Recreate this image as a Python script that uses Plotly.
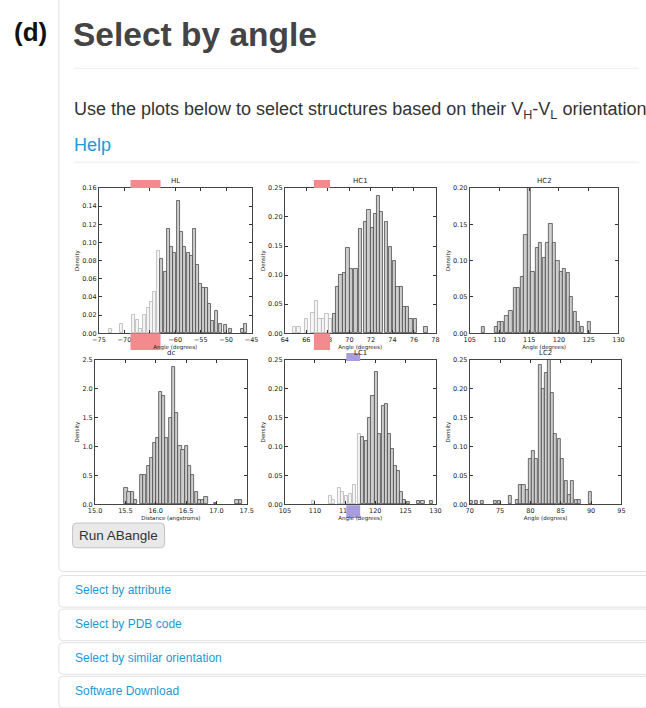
import plotly.graph_objects as go

W, H = 646, 708

# ---------------- data ----------------
hl_x = [-72.8, -70.5, -68.2, -67.5, -66.8, -66.0, -65.3, -64.7, -64.0, -63.3, -62.7, -62.0,
        -61.4, -60.7, -60.1, -59.4, -58.8, -58.2, -57.5, -56.9, -56.3, -55.7, -55.1, -54.5,
        -53.9, -53.2, -52.6, -51.9, -51.2, -50.1, -49.2, -46.8, -46.2]
hl_y = [0.005, 0.010, 0.020, 0.015, 0.005, 0.020, 0.028, 0.035, 0.045, 0.091, 0.082, 0.068,
        0.115, 0.095, 0.088, 0.146, 0.112, 0.095, 0.088, 0.085, 0.115, 0.075, 0.054, 0.050,
        0.050, 0.032, 0.014, 0.025, 0.010, 0.009, 0.005, 0.005, 0.010]
hl_sel = [-68.8, -62.9]

hc1_x = [64.85, 65.3, 66.0, 66.6, 66.9, 67.25, 67.55, 67.9, 68.2, 68.6, 68.9, 69.2, 69.5,
         69.85, 70.2, 70.6, 71.05, 71.45, 71.8, 72.1, 72.4, 72.7, 73.0, 73.4, 73.8, 74.2,
         74.5, 74.8, 75.1, 75.4, 75.7, 76.1, 77.1]
hc1_y = [0.011, 0.011, 0.024, 0.035, 0.056, 0.024, 0.024, 0.034, 0.024, 0.034, 0.079, 0.100,
         0.104, 0.146, 0.111, 0.111, 0.180, 0.191, 0.213, 0.181, 0.205, 0.236, 0.208, 0.191,
         0.149, 0.124, 0.079, 0.079, 0.045, 0.045, 0.024, 0.024, 0.011]
hc1_sel = [66.7, 68.2]

hc2_x = [107.3, 109.4, 109.9, 110.5, 111.2, 111.9, 112.6, 113.2, 113.8, 114.4, 115.0, 115.6,
         116.3, 116.9, 117.5, 118.1, 118.6, 119.2, 119.8, 120.4, 120.9, 121.5, 122.1, 122.7,
         123.3, 123.9, 125.1]
hc2_y = [0.009, 0.009, 0.016, 0.016, 0.024, 0.031, 0.063, 0.063, 0.077, 0.135, 0.200, 0.085,
         0.117, 0.125, 0.103, 0.125, 0.151, 0.125, 0.100, 0.085, 0.088, 0.083, 0.050, 0.030,
         0.016, 0.009, 0.016]

dc_x = [15.51, 15.56, 15.62, 15.67, 15.76, 15.82, 15.88, 15.93, 15.98, 16.03, 16.08, 16.13,
        16.18, 16.24, 16.29, 16.34, 16.40, 16.45, 16.51, 16.56, 16.61, 16.67, 16.72, 16.77,
        16.83, 16.99, 17.34, 17.40]
dc_y = [0.28, 0.21, 0.21, 0.07, 0.50, 0.50, 0.67, 0.81, 1.07, 1.15, 1.95, 1.87,
        1.15, 1.50, 2.38, 1.58, 1.01, 0.95, 1.01, 0.67, 0.50, 0.21, 0.07, 0.07,
        0.13, 0.03, 0.07, 0.07]

lc1_x = [109.7, 112.5, 113.1, 114.1, 114.6, 115.2, 115.8, 116.5, 117.3, 117.9, 118.5, 119.1,
         119.6, 120.2, 120.7, 121.3, 121.8, 122.3, 122.8, 123.3, 123.8, 124.4, 124.9, 125.5,
         127.1, 127.9, 129.3]
lc1_y = [0.006, 0.014, 0.007, 0.029, 0.021, 0.015, 0.018, 0.033, 0.121, 0.116, 0.110, 0.150,
         0.187, 0.230, 0.121, 0.170, 0.173, 0.121, 0.096, 0.067, 0.058, 0.021, 0.007, 0.004,
         0.006, 0.006, 0.006]
lc1_sel = [115.2, 117.5]

lc2_x = [70.3, 71.0, 72.0, 74.2, 74.9, 76.7, 77.8, 78.4, 78.9, 79.4, 79.9, 80.5, 81.0, 81.6,
         82.1, 82.6, 83.1, 83.6, 84.1, 84.7, 85.3, 85.9, 86.4, 86.9, 87.5, 88.0, 89.9]
lc2_y = [0.006, 0.006, 0.006, 0.006, 0.006, 0.014, 0.007, 0.034, 0.034, 0.024, 0.079, 0.093,
         0.079, 0.242, 0.199, 0.228, 0.250, 0.193, 0.122, 0.113, 0.079, 0.041, 0.016, 0.041,
         0.007, 0.007, 0.021]

# ---------------- helpers ----------------
def X(px):
    return px / W

def Y(py):
    return 1 - py / H

def rrect(x0, y0, x1, y1, r):
    return (f"M {X(x0 + r)},{Y(y0)} L {X(x1 - r)},{Y(y0)} Q {X(x1)},{Y(y0)} {X(x1)},{Y(y0 + r)} "
            f"L {X(x1)},{Y(y1 - r)} Q {X(x1)},{Y(y1)} {X(x1 - r)},{Y(y1)} "
            f"L {X(x0 + r)},{Y(y1)} Q {X(x0)},{Y(y1)} {X(x0)},{Y(y1 - r)} "
            f"L {X(x0)},{Y(y0 + r)} Q {X(x0)},{Y(y0)} {X(x0 + r)},{Y(y0)} Z")

PINK = "#f28a8e"
PURPLE = "#a99ddd"
BLUE = "#1b9ad6"

panels = [
    dict(title="HL", x=hl_x, y=hl_y, w=0.6, xr=[-75, -45], xd=5, yr=[0, 0.16], yd=0.02,
         yf=".2f", xf="d", xt="Angle (degrees)", sel=hl_sel, sc=PINK, box=(94, 186, 250, 333),
         hs=((178, 186), (333, 350))),
    dict(title="HC1", x=hc1_x, y=hc1_y, w=0.3, xr=[64, 78], xd=2, yr=[0, 0.25], yd=0.05,
         yf=".2f", xf="d", xt="Angle (degrees)", sel=hc1_sel, sc=PINK, box=(284, 186, 438, 333),
         hs=((178, 186), (333, 350))),
    dict(title="HC2", x=hc2_x, y=hc2_y, w=0.55, xr=[105, 130], xd=5, yr=[0, 0.20], yd=0.05,
         yf=".2f", xf="d", xt="Angle (degrees)", sel=None, sc=None, box=(473, 186, 625, 333),
         hs=None),
    dict(title="dc", x=dc_x, y=dc_y, w=0.052, xr=[15.0, 17.5], xd=0.5, yr=[0, 2.5], yd=0.5,
         yf=".1f", xf=".1f", xt="Distance (angstroms)", sel=None, sc=None, box=(90, 360, 245, 506),
         hs=None),
    dict(title="LC1", x=lc1_x, y=lc1_y, w=0.52, xr=[105, 130], xd=5, yr=[0, 0.25], yd=0.05,
         yf=".2f", xf="d", xt="Angle (degrees)", sel=lc1_sel, sc=PURPLE, box=(284, 360, 438, 506),
         hs=((353, 361), (507, 520))),
    dict(title="LC2", x=lc2_x, y=lc2_y, w=0.5, xr=[70, 95], xd=5, yr=[0, 0.25], yd=0.05,
         yf=".2f", xf="d", xt="Angle (degrees)", sel=None, sc=None, box=(473, 360, 628, 506),
         hs=None),
]

fig = go.Figure()
shapes = []
annotations = []
layout = {}

TICKFONT = dict(family="DejaVu Sans", size=6.5, color="#222")

for i, p in enumerate(panels, start=1):
    sfx = "" if i == 1 else str(i)
    xa, ya = "x" + sfx, "y" + sfx
    if p["sel"] is not None:
        fills = ["#f6f6f6" if v <= p["sel"][1] else "#cdcdcd" for v in p["x"]]
        edges = ["#b5b5b5" if v <= p["sel"][1] else "#4d4d4d" for v in p["x"]]
    else:
        fills = "#cdcdcd"
        edges = "#4d4d4d"
    fig.add_trace(go.Bar(x=p["x"], y=p["y"], width=p["w"], xaxis=xa, yaxis=ya,
                         marker=dict(color=fills, line=dict(color=edges, width=0.8)),
                         showlegend=False, hoverinfo="x+y"))
    x0, y0, x1, y1 = p["box"]
    layout["xaxis" + sfx] = dict(
        domain=[X(x0), X(x1)], anchor=ya, range=p["xr"], dtick=p["xd"], tick0=p["xr"][0],
        tickformat=p["xf"], showgrid=False, zeroline=False, showline=True, linecolor="#444",
        linewidth=1, mirror="allticks", ticks="inside", ticklen=3, tickwidth=0.8,
        tickcolor="#333", tickfont=TICKFONT,
        title=dict(text=p["xt"], font=dict(family="DejaVu Sans", size=5.5, color="#222"),
                   standoff=1),
        fixedrange=True)
    layout["yaxis" + sfx] = dict(
        domain=[Y(y1), Y(y0)], anchor=xa, range=p["yr"], dtick=p["yd"], tick0=0,
        tickformat=p["yf"], showgrid=False, zeroline=False, showline=True, linecolor="#444",
        linewidth=1, mirror="allticks", ticks="inside", ticklen=3, tickwidth=0.8,
        tickcolor="#333", tickfont=TICKFONT,
        title=dict(text="Density", font=dict(family="DejaVu Sans", size=5.5, color="#222"),
                   standoff=2),
        fixedrange=True)
    annotations.append(dict(text=p["title"], x=X((x0 + x1) / 2), y=Y(y0 - 1), xref="paper",
                            yref="paper", xanchor="center", yanchor="bottom", showarrow=False,
                            font=dict(family="DejaVu Sans", size=7, color="#222")))
    if p["sel"] is not None:
        for (ha, hb) in p["hs"]:
            shapes.append(dict(type="rect", xref=xa, yref="paper", x0=p["sel"][0],
                               x1=p["sel"][1], y0=Y(hb), y1=Y(ha), fillcolor=p["sc"],
                               line=dict(width=0), layer="above"))

# ---------------- page chrome ----------------
shapes.append(dict(type="path", xref="paper", yref="paper", path=rrect(53, -20, 680, 574, 5),
                   line=dict(color="#e2e2e2", width=1), fillcolor="rgba(0,0,0,0)", layer="below"))
for yy in (65, 160):
    shapes.append(dict(type="line", xref="paper", yref="paper", x0=X(68), x1=X(646), y0=Y(yy),
                       y1=Y(yy), line=dict(color="#ececec", width=1), layer="below"))
shapes.append(dict(type="path", xref="paper", yref="paper", path=rrect(67, 525, 161, 550, 4),
                   line=dict(color="#c4c4c4", width=1), fillcolor="#e9e9e9", layer="below"))

acc_items = ["Select by attribute", "Select by PDB code", "Select by similar orientation",
             "Software Download"]
for k, label in enumerate(acc_items):
    top = 578 + 34 * k
    shapes.append(dict(type="path", xref="paper", yref="paper",
                       path=rrect(53, top, 680, top + 32, 4),
                       line=dict(color="#e2e2e2", width=1), fillcolor="rgba(0,0,0,0)",
                       layer="below"))
    annotations.append(dict(text=label, x=X(67), y=Y(top + 15), xref="paper", yref="paper",
                            xanchor="left", yanchor="middle", showarrow=False,
                            font=dict(family="Liberation Sans", size=12, color=BLUE)))

annotations += [
    dict(text="<b>(d)</b>", x=X(5), y=Y(28), xref="paper", yref="paper", xanchor="left",
         yanchor="middle", showarrow=False,
         font=dict(family="Liberation Sans", size=26, color="#111")),
    dict(text="<b>Select by angle</b>", x=X(65), y=Y(31), xref="paper", yref="paper",
         xanchor="left", yanchor="middle", showarrow=False,
         font=dict(family="Liberation Sans", size=33.5, color="#444")),
    dict(text="Use the plots below to select structures based on their V<sub>H</sub>-V<sub>L</sub> orientation",
         x=X(66), y=Y(108), xref="paper", yref="paper", xanchor="left", yanchor="middle",
         showarrow=False, font=dict(family="Liberation Sans", size=18, color="#333")),
    dict(text="Help", x=X(66), y=Y(143), xref="paper", yref="paper", xanchor="left",
         yanchor="middle", showarrow=False,
         font=dict(family="Liberation Sans", size=18, color=BLUE)),
    dict(text="Run ABangle", x=X(114), y=Y(537.5), xref="paper", yref="paper",
         xanchor="center", yanchor="middle", showarrow=False,
         font=dict(family="Liberation Sans", size=13.5, color="#333")),
]

fig.update_layout(
    width=W, height=H, margin=dict(l=0, r=0, t=0, b=0), paper_bgcolor="white",
    plot_bgcolor="white", bargap=0, shapes=shapes, annotations=annotations, showlegend=False,
    font=dict(family="Liberation Sans"), **layout)

fig.write_html("out.html", config={"displayModeBar": False},
               post_script="document.documentElement.style.margin='0';"
                           "document.body.style.margin='0';"
                           "document.body.style.padding='0';")
